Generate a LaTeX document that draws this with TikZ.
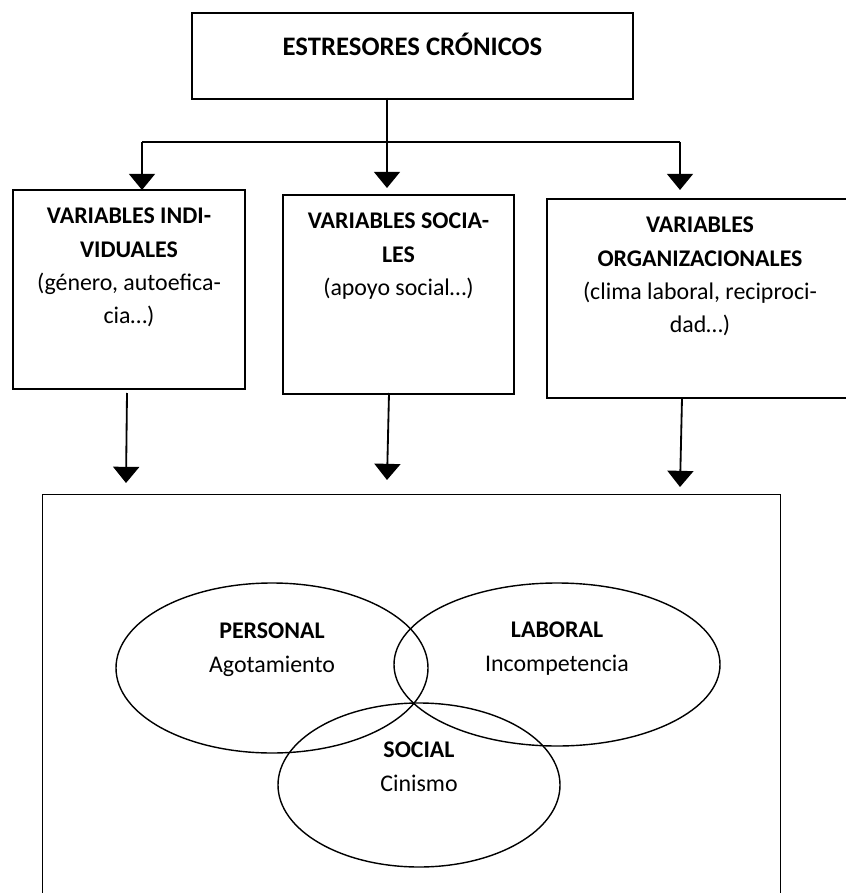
\documentclass[tikz,border=0pt]{standalone}
\usepackage{fontspec}
\setmainfont{Carlito}
\usetikzlibrary{arrows.meta,shapes.geometric}
\tikzstyle{none}=[]
\tikzstyle{caja}=[rectangle,draw=black,line width=1.4pt,inner sep=0pt,anchor=north,
  align=flush center,text height=0.85cm,text depth=4.125cm,font=\fontsize{17}{23.5}\selectfont]
\tikzstyle{marco}=[rectangle,draw=black,line width=0.7pt,anchor=north,inner sep=0pt,
  minimum width=18.45cm,minimum height=10.15cm]
\tikzstyle{elipse}=[ellipse,draw=black,line width=1pt,inner sep=0pt,align=center,
  text height=0.5cm,font=\fontsize{17}{23.5}\selectfont]
\tikzstyle{linea}=[line width=1.3pt]
\tikzstyle{flecha}=[line width=1.3pt,-{Triangle[width=18.5pt,length=11.5pt]}]

\begin{document}
\begin{tikzpicture}
            \useasboundingbox (0, 0) rectangle (21.125, -22.325);
            \node [style=caja,text width=11.025cm,text height=1.075cm,text depth=1.075cm,font=\fontsize{19}{23.5}\selectfont] (0) at (10.3125, -0.3) {\textbf{ESTRESORES CRÓNICOS}};
            \node [style=caja,text width=5.8cm] (1) at (3.225, -4.725) {\textbf{VARIABLES INDI-}\\\textbf{VIDUALES}\\(género, autoefica-\\cia…)};
            \node [style=caja,text width=5.775cm] (2) at (9.9625, -4.85) {\textbf{VARIABLES SOCIA-}\\\textbf{LES}\\(apoyo social…)};
            \node [style=caja,text width=7.65cm] (3) at (17.5, -4.95) {\textbf{VARIABLES}\\\textbf{ORGANIZACIONALES}\\(clima laboral, reciproci-\\dad…)};
            \node [style=marco] (4) at (10.275, -12.35) {};
            \node [style=elipse,minimum width=7.8cm,minimum height=4.25cm,text depth=0.3cm] (5) at (6.8, -16.7) {\textbf{PERSONAL}\\Agotamiento};
            \node [style=elipse,minimum width=8.15cm,minimum height=4.075cm,text depth=0.175cm] (6) at (13.925, -16.6125) {\textbf{LABORAL}\\Incompetencia};
            \node [style=elipse,minimum width=7.05cm,minimum height=4.1cm,text depth=0.2cm] (7) at (10.475, -19.625) {\textbf{SOCIAL}\\Cinismo};
            \node [style=none] (8) at (9.675, -2.45) {};
            \node [style=none] (9) at (9.675, -4.7) {};
            \node [style=none] (10) at (3.55, -3.55) {};
            \node [style=none] (11) at (17, -3.55) {};
            \node [style=none] (12) at (3.55, -4.75) {};
            \node [style=none] (13) at (17, -4.75) {};
            \node [style=none] (14) at (3.175, -9.825) {};
            \node [style=none] (15) at (3.15, -12.075) {};
            \node [style=none] (16) at (9.725, -9.825) {};
            \node [style=none] (17) at (9.675, -12) {};
            \node [style=none] (18) at (17.05, -9.95) {};
            \node [style=none] (19) at (17, -12.175) {};
            \draw [style=flecha] (8.center) to (9.center);
            \draw [style=linea] (10.center) to (11.center);
            \draw [style=flecha] (10.center) to (12.center);
            \draw [style=flecha] (11.center) to (13.center);
            \draw [style=flecha] (14.center) to (15.center);
            \draw [style=flecha] (16.center) to (17.center);
            \draw [style=flecha] (18.center) to (19.center);
\end{tikzpicture}
\end{document}
